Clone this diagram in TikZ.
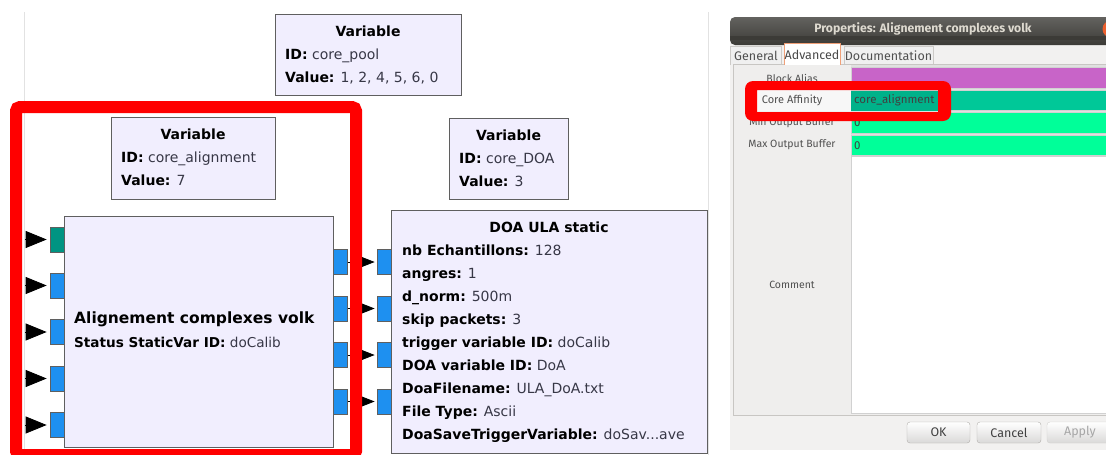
\documentclass[tikz,border=0pt]{standalone}
\usepackage{fontspec}
\newfontfamily\grcfont{DejaVu Sans}
\newfontfamily\uifont{Fira Sans}
\usetikzlibrary{arrows.meta}
\definecolor{blkfill}{RGB}{241,238,254}
\definecolor{blkline}{RGB}{95,95,95}
\definecolor{portblue}{RGB}{30,144,240}
\definecolor{portteal}{RGB}{0,148,130}
\definecolor{valgray}{RGB}{55,55,70}
\definecolor{canvasline}{RGB}{226,226,226}
\definecolor{dlgbg}{RGB}{242,241,240}
\definecolor{titledark}{RGB}{60,59,55}
\definecolor{titletext}{RGB}{222,218,208}
\definecolor{labelcol}{RGB}{239,238,237}
\definecolor{framegray}{RGB}{200,198,195}
\definecolor{aliasmag}{RGB}{200,100,200}
\definecolor{affteal}{RGB}{0,200,152}
\definecolor{bufgreen}{RGB}{0,255,153}
\definecolor{selteal}{RGB}{0,178,138}
\definecolor{labeltext}{RGB}{80,80,80}
\definecolor{tabline}{RGB}{205,203,200}
\definecolor{tabact}{RGB}{240,160,120}
\definecolor{closeorange}{RGB}{235,95,45}
\definecolor{btnline}{RGB}{178,176,172}
\newcommand\blkkv[2]{\textbf{#1:} {\color{valgray}#2}}
\tikzset{
  blk/.style={draw=blkline, fill=blkfill, line width=1.1pt, anchor=north west, inner sep=0pt},
  port/.style={draw=blkline, fill=portblue, line width=0.7pt, minimum width=14pt, minimum height=25pt, inner sep=0pt},
  tealport/.style={port, fill=portteal},
  gtxt/.style={font=\grcfont\fontsize{14}{16}\selectfont, inner sep=0pt, anchor=base west},
  gtitle/.style={font=\grcfont\bfseries\fontsize{14}{16}\selectfont, inner sep=0pt, anchor=base},
  bigarrow/.style={-{Triangle[length=21pt,width=17pt]}, line width=0.8pt, shorten >=3pt},
  smallarrow/.style={-{Triangle[length=13pt,width=10pt]}, line width=0.8pt, shorten >=2pt},
  uilabel/.style={font=\uifont\fontsize{10.5}{12}\selectfont, text=labeltext, inner sep=0pt},
  fieldtxt/.style={font=\uifont\fontsize{11.5}{13}\selectfont, text=black!75, inner sep=0pt, anchor=west},
  tabtxt/.style={font=\uifont\fontsize{12.5}{14}\selectfont, text=labeltext, inner sep=0pt},
  btn/.style={draw=btnline, top color=white, bottom color=dlgbg!90!black, rounded corners=3pt, minimum height=21pt, inner sep=0pt, font=\uifont\fontsize{12.5}{14}\selectfont, text=black!75},
  field/.style={draw=black!18, line width=0.6pt},
}
\begin{document}
\begin{tikzpicture}[x=1pt,y=-1pt]
\useasboundingbox (0,0) rectangle (1106,455);
\clip (0,0) rectangle (1106,455);
\fill[white] (0,0) rectangle (1106,455);
% canvas edges
\draw[canvasline, line width=1pt] (24,12) -- (24,455);
\draw[canvasline, line width=1pt] (708,12) -- (708,455);

% ---------- Variable core_pool
\node[blk, minimum width=186pt, minimum height=81pt] (vpool) at (275,14) {};
\node[gtitle] (vpoolt) at (368,36) {Variable};
\node[gtxt] (vpool1) at (285,59) {\blkkv{ID}{core\_pool}};
\node[gtxt] (vpool2) at (285,82) {\blkkv{Value}{1, 2, 4, 5, 6, 0}};

% ---------- Variable core_alignment
\node[blk, minimum width=164pt, minimum height=82pt] (valign) at (111,117) {};
\node[gtitle] (valignt) at (193,139) {Variable};
\node[gtxt] (valign1) at (121,162) {\blkkv{ID}{core\_alignment}};
\node[gtxt] (valign2) at (121,185) {\blkkv{Value}{7}};

% ---------- Variable core_DOA
\node[blk, minimum width=119pt, minimum height=81pt] (vdoa) at (449,118) {};
\node[gtitle] (vdoat) at (508.5,140) {Variable};
\node[gtxt] (vdoa1) at (459,163) {\blkkv{ID}{core\_DOA}};
\node[gtxt] (vdoa2) at (459,186) {\blkkv{Value}{3}};

% ---------- Alignement complexes volk
\node[blk, minimum width=269pt, minimum height=231pt] (acv) at (64,216) {};
\node[gtxt, font=\grcfont\bfseries\fontsize{15.5}{17}\selectfont] (acv1) at (74,323.5) {Alignement complexes volk};
\node[gtxt, font=\grcfont\fontsize{13.6}{16}\selectfont] (acv2) at (74,347) {\blkkv{Status StaticVar ID}{doCalib}};

% ---------- DOA ULA static
\node[blk, minimum width=316pt, minimum height=243pt] (doa) at (391,210) {};
\node[gtitle] (doat) at (549,232) {DOA ULA static};
\node[gtxt] (doa1) at (402,255) {\blkkv{nb Echantillons}{128}};
\node[gtxt] (doa2) at (402,278) {\blkkv{angres}{1}};
\node[gtxt] (doa3) at (402,301) {\blkkv{d\_norm}{500m}};
\node[gtxt] (doa4) at (402,324) {\blkkv{skip packets}{3}};
\node[gtxt] (doa5) at (402,347) {\blkkv{trigger variable ID}{doCalib}};
\node[gtxt] (doa6) at (402,370) {\blkkv{DOA variable ID}{DoA}};
\node[gtxt] (doa7) at (402,393) {\blkkv{DoaFilename}{ULA\_DoA.txt}};
\node[gtxt] (doa8) at (402,416) {\blkkv{File Type}{Ascii}};
\node[gtxt] (doa9) at (402,439) {\blkkv{DoaSaveTriggerVariable}{doSav...ave}};

% ---------- ports
\node[tealport] (pin1) at (57,239.5) {};
\node[port] (pin2) at (57,285.5) {};
\node[port] (pin3) at (57,332) {};
\node[port] (pin4) at (57,378.5) {};
\node[port] (pin5) at (57,425) {};
\node[port] (pout1) at (340.5,262) {};
\node[port] (pout2) at (340.5,308.5) {};
\node[port] (pout3) at (340.5,355) {};
\node[port] (pout4) at (340.5,401.5) {};
\node[port] (pdoa1) at (384,262) {};
\node[port] (pdoa2) at (384,308.5) {};
\node[port] (pdoa3) at (384,355) {};
\node[port] (pdoa4) at (384,401.5) {};

% ---------- connectors
\coordinate (src1) at (25,239.5);
\coordinate (src2) at (25,285.5);
\coordinate (src3) at (25,332);
\coordinate (src4) at (25,378.5);
\coordinate (src5) at (25,425);
\foreach \i in {1,...,5} {\draw[bigarrow] (src\i) -- (pin\i.west);}
\foreach \i in {1,...,4} {\draw[smallarrow] (pout\i.east) -- (pdoa\i.west);}

% ---------- red highlight
\draw[red, line width=12pt, rounded corners=4pt] (16,107) rectangle (356,455);

% ================= Properties dialog
\fill[dlgbg] (730,40) rectangle (1110,450);
\shade[top color=titledark!80!white, bottom color=titledark, rounded corners=5pt] (730,17) rectangle (1115,45);
\fill[titledark] (730,36) rectangle (1115,40);
\node[font=\uifont\bfseries\fontsize{12.2}{14}\selectfont, text=titletext, inner sep=0pt] (dlgtitle) at (923,29) {Properties: Alignement complexes volk};
\fill[closeorange] (1111,29) circle (8.5pt);
% tabs
\draw[tabline, fill=black!6, line width=0.6pt] (730,65) -- (730,46) -- (781,46) -- (781,65);
\draw[tabline, fill=black!6, line width=0.6pt] (844,65) -- (844,46) -- (933,46) -- (933,65);
\node[tabtxt] (tgen) at (756,56) {General};
\node[tabtxt] (tdoc) at (888.5,56) {Documentation};
% notebook frame
\draw[framegray, fill=labelcol, line width=0.7pt] (733,64) rectangle (1115,415);
\draw[tabact, fill=white, line width=0.8pt] (784,64.5) -- (784,43) -- (840,43) -- (840,64.5);
\node[tabtxt, text=labeltext!90!black] (tadv) at (812,55) {Advanced};
\fill[white] (851,65) rectangle (1115,414);
% fields
\fill[black!12] (851,65) rectangle (1115,156);
\draw[field, fill=aliasmag] (851,67.5) rectangle (1115,88);
\draw[field, fill=affteal] (851,90) rectangle (1115,110.5);
\draw[field, fill=bufgreen] (851,112.5) rectangle (1115,133);
\draw[field, fill=bufgreen] (851,135) rectangle (1115,155);
\draw[field, fill=white] (851,156.5) rectangle (1115,413);
% labels
\node[uilabel] (lalias) at (792,78) {Block Alias};
\fill[black!3] (757,90) rectangle (851,111);
\node[uilabel, font=\uifont\fontsize{11}{12}\selectfont] (laff) at (792,100) {Core Affinity};
\node[uilabel] (lmin) at (792,123) {Min Output Buffer};
\node[uilabel] (lmax) at (792,145) {Max Output Buffer};
\node[uilabel] (lcom) at (792,284.5) {Comment};
\fill[selteal] (851,90.5) rectangle (938,110.5);
\node[fieldtxt] (vaff) at (854,100.5) {core\_alignment};
\node[fieldtxt] (vmin) at (854,123) {0};
\node[fieldtxt] (vmax) at (854,145.5) {0};
% red ring
\fill[red, even odd rule] [rounded corners=8pt] (745,81) rectangle (951,121) [sharp corners] (757,90) rectangle (938,112);
% buttons
\node[btn, minimum width=63pt] (bok) at (938.5,432.5) {OK};
\node[btn, minimum width=64pt] (bcancel) at (1009,432.5) {Cancel};
\node[btn, minimum width=66pt, draw=btnline!60, text=black!35] (bapply) at (1080,432.5) {Apply};
\end{tikzpicture}
\end{document}
